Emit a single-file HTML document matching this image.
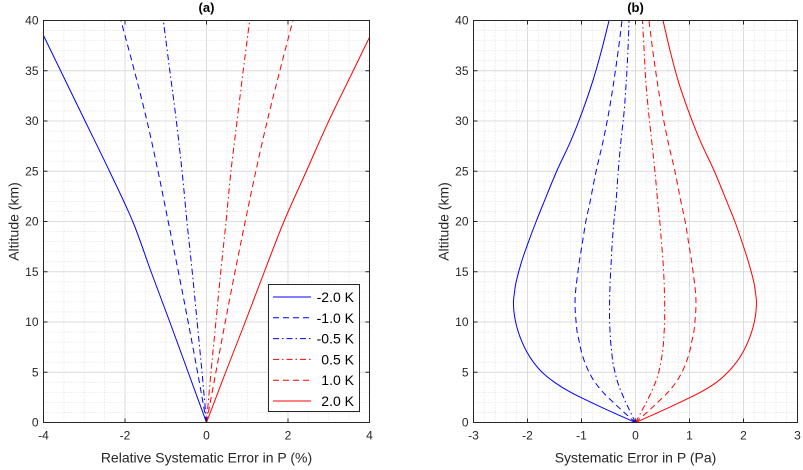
<!DOCTYPE html>
<html><head><meta charset="utf-8"><style>
body{margin:0;background:#fff;}
svg{display:block;font-family:"Liberation Sans",Arial,sans-serif;}
</style></head><body>
<svg id="fig" width="803" height="470" viewBox="0 0 803 470"></svg>
<script>
const zA=[0,5,10,15,20,25,30,35,40];
const relM2=[0,-0.45,-0.9,-1.36,-1.81,-2.38,-2.98,-3.58,-4.18];
const relM1=[0,-0.22,-0.45,-0.69,-0.94,-1.19,-1.46,-1.77,-2.1];
const relM05=[0,-0.11,-0.23,-0.35,-0.48,-0.6,-0.74,-0.9,-1.06];
const relP05=[0,0.11,0.23,0.35,0.48,0.6,0.75,0.9,1.06];
const relP1=[0,0.23,0.46,0.7,0.95,1.21,1.49,1.8,2.12];
const relP2=[0,0.47,0.95,1.42,1.9,2.45,3.0,3.6,4.2];
const zB=[0,1,2,3,4,5,6,7,8,9,10,11,12,13,14,16,18,20,22,25,28,31,34,37,40];
const absM2=[0,-0.42,-0.82,-1.2,-1.5,-1.73,-1.89,-2.01,-2.1,-2.17,-2.22,-2.25,-2.26,-2.24,-2.21,-2.11,-1.98,-1.84,-1.69,-1.46,-1.2,-0.98,-0.79,-0.63,-0.49];
const absM1=[0,-0.21,-0.41,-0.6,-0.75,-0.86,-0.94,-1.0,-1.04,-1.08,-1.1,-1.115,-1.12,-1.11,-1.09,-1.04,-0.98,-0.92,-0.84,-0.73,-0.6,-0.49,-0.4,-0.32,-0.25];
const absM05=[0,-0.09,-0.18,-0.26,-0.33,-0.38,-0.42,-0.44,-0.46,-0.47,-0.48,-0.48,-0.48,-0.475,-0.47,-0.45,-0.43,-0.4,-0.36,-0.32,-0.27,-0.21,-0.17,-0.14,-0.12];
const absP05=[0,0.1,0.2,0.29,0.37,0.43,0.47,0.5,0.52,0.53,0.54,0.54,0.54,0.535,0.53,0.51,0.48,0.45,0.41,0.36,0.3,0.24,0.19,0.16,0.13];
const absP1=[0,0.21,0.41,0.6,0.75,0.86,0.94,1.0,1.04,1.08,1.1,1.115,1.12,1.11,1.09,1.04,0.98,0.92,0.84,0.73,0.6,0.49,0.4,0.32,0.25];
const absP2=[0,0.42,0.82,1.2,1.5,1.71,1.87,1.99,2.08,2.15,2.2,2.23,2.24,2.22,2.19,2.09,1.97,1.84,1.69,1.46,1.2,0.98,0.79,0.64,0.51];
const xTicksA=[-4,-2,0,2,4];
const xTicksB=[-3,-2,-1,0,1,2,3];
const yTicks=[0,5,10,15,20,25,30,35,40];
const legendLabels=["-2.0 K","-1.0 K","-0.5 K","0.5 K","1.0 K","2.0 K"];

const NS="http://www.w3.org/2000/svg";
const svg=document.getElementById('fig');
function mk(tag,at,parent){const e=document.createElementNS(NS,tag);for(const k in at)e.setAttribute(k,at[k]);(parent||svg).appendChild(e);return e;}
const styles=[
 {c:"#0000ff",d:""},{c:"#0000ff",d:"6,4"},{c:"#0000ff",d:"6,3,1.5,3"},
 {c:"#ff0000",d:"6,3,1.5,3"},{c:"#ff0000",d:"6,4"},{c:"#ff0000",d:""}];
function smoothPath(pts){
 let d="M"+pts[0][0].toFixed(2)+","+pts[0][1].toFixed(2);
 for(let i=0;i<pts.length-1;i++){
  const p0=pts[Math.max(i-1,0)],p1=pts[i],p2=pts[i+1],p3=pts[Math.min(i+2,pts.length-1)];
  const c1=[p1[0]+(p2[0]-p0[0])/6,p1[1]+(p2[1]-p0[1])/6];
  const c2=[p2[0]-(p3[0]-p1[0])/6,p2[1]-(p3[1]-p1[1])/6];
  d+=" C"+c1[0].toFixed(2)+","+c1[1].toFixed(2)+" "+c2[0].toFixed(2)+","+c2[1].toFixed(2)+" "+p2[0].toFixed(2)+","+p2[1].toFixed(2);
 }
 return d;
}
function panel(o){
 const g=mk('g',{});
 
 
 const X=v=>o.x0+(v-o.xmin)/(o.xmax-o.xmin)*(o.x1-o.x0);
 const Y=v=>o.y1-(v/40)*(o.y1-o.y0);
 mk('rect',{x:o.x0,y:o.y0,width:o.x1-o.x0,height:o.y1-o.y0,fill:"#fff"},g);
 const clipId='clip-'+o.name;
 const cp=mk('clipPath',{id:clipId},g);
 mk('rect',{x:o.x0,y:o.y0,width:o.x1-o.x0,height:o.y1-o.y0},cp);
 for(let v=o.xmin;v<=o.xmax+1e-9;v+=o.minor){mk('line',{x1:X(v),x2:X(v),y1:o.y0,y2:o.y1,stroke:"#d8d8d8","stroke-width":0.8,"stroke-dasharray":"1,2"},g);}
 for(let v=0;v<=40;v+=1){mk('line',{x1:o.x0,x2:o.x1,y1:Y(v),y2:Y(v),stroke:"#d8d8d8","stroke-width":0.8,"stroke-dasharray":"1,2"},g);}
 o.xt.forEach(v=>mk('line',{x1:X(v),x2:X(v),y1:o.y0,y2:o.y1,stroke:"#dcdcdc","stroke-width":1},g));
 yTicks.forEach(v=>mk('line',{x1:o.x0,x2:o.x1,y1:Y(v),y2:Y(v),stroke:"#dcdcdc","stroke-width":1},g));
 const sg=mk('g',{"clip-path":`url(#${clipId})`},g);
 o.series.forEach((s,i)=>{
  const pts=s.map((v,j)=>[X(v),Y(o.z[j])]);
  const p=mk('path',{d:smoothPath(pts),fill:"none",stroke:styles[i].c,"stroke-width":1,"stroke-dasharray":styles[i].d},sg);
  
  
 });
 mk('rect',{x:o.x0,y:o.y0,width:o.x1-o.x0,height:o.y1-o.y0,fill:"none",stroke:"#262626","stroke-width":1},g);
 o.xt.forEach(v=>{
  mk('line',{x1:X(v),x2:X(v),y1:o.y1,y2:o.y1-4,stroke:"#262626"},g);
  mk('line',{x1:X(v),x2:X(v),y1:o.y0,y2:o.y0+4,stroke:"#262626"},g);
  const t=mk('text',{x:X(v),y:o.y1+17,"text-anchor":"middle","font-size":12,fill:"#262626"},g);t.textContent=v;
  
  
 });
 yTicks.forEach(v=>{
  mk('line',{x1:o.x0,x2:o.x0+4,y1:Y(v),y2:Y(v),stroke:"#262626"},g);
  mk('line',{x1:o.x1,x2:o.x1-4,y1:Y(v),y2:Y(v),stroke:"#262626"},g);
  const t=mk('text',{x:o.x0-5,y:Y(v)+4,"text-anchor":"end","font-size":12,fill:"#262626"},g);t.textContent=v;
  
  
 });
 const tt=mk('text',{x:(o.x0+o.x1)/2,y:12,"text-anchor":"middle","font-size":13,"font-weight":"bold",fill:"#000"},g);tt.textContent=o.title;
 
 
 const xl=mk('text',{x:(o.x0+o.x1)/2,y:o.y1+40,"text-anchor":"middle","font-size":14,fill:"#262626"},g);xl.textContent=o.xlabel;
 
 
 const cy=(o.y0+o.y1)/2;
 const yl=mk('text',{x:o.x0-25,y:cy,"text-anchor":"middle","font-size":14,fill:"#262626",transform:`rotate(-90 ${o.x0-25} ${cy})`},g);yl.textContent="Altitude (km)";
 
 
 return g;
}
panel({name:'panel-a',x0:43.5,x1:369.5,y0:20.5,y1:422.5,xmin:-4,xmax:4,minor:0.5,xt:xTicksA,z:zA,
 series:[relM2,relM1,relM05,relP05,relP1,relP2],title:"(a)",xlabel:"Relative Systematic Error in P (%)"});
panel({name:'panel-b',x0:473.5,x1:797.5,y0:20.5,y1:422.5,xmin:-3,xmax:3,minor:0.2,xt:xTicksB,z:zB,
 series:[absM2,absM1,absM05,absP05,absP1,absP2],title:"(b)",xlabel:"Systematic Error in P (Pa)"});
const lg=mk('g',{});


mk('rect',{x:268.5,y:284.5,width:91,height:127,fill:"#fff",stroke:"#262626","stroke-width":1},lg);
legendLabels.forEach((lab,i)=>{
 const y=297+i*20.8;
 mk('line',{x1:273,x2:311,y1:y,y2:y,stroke:styles[i].c,"stroke-width":1,"stroke-dasharray":styles[i].d},lg);
 const t=mk('text',{x:354,y:y+5,"text-anchor":"end","font-size":14,fill:"#000"},lg);t.textContent=lab;
 
 
});
</script>
</body></html>
